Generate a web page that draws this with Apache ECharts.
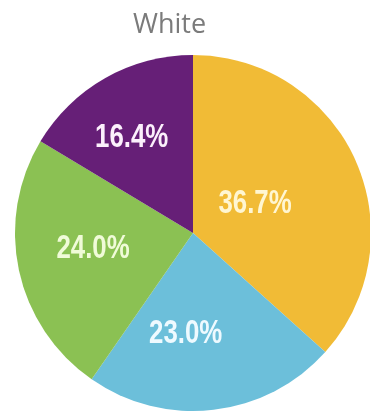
<!DOCTYPE html>
<html>
<head>
<meta charset="utf-8">
<script src="https://cdn.jsdelivr.net/npm/echarts@6/dist/echarts.min.js"></script>
<style>
  html, body { margin: 0; padding: 0; background: #ffffff; }
  #chart { width: 370px; height: 415px; }
</style>
</head>
<body>
<div id="chart"></div>
<script>
// Share of respondents, clockwise from 12 o'clock
const categories = ['A', 'B', 'C', 'D'];
const shares = [36.7, 23.0, 24.0, 16.4];
const chartTitle = 'White';

const sliceColors = ['#f1bb36', '#6cbfda', '#8bc153', '#661f77'];
const labelColors = ['#fff6d2', '#eefaff', '#f0fbd8', '#fcf0fc'];
// small hand nudges for the inside labels, in pixels
const labelNudge = [[-22, 8], [-18, 9], [-10, -4], [-16, -15]];
// horizontal squeeze that gives the percentages a condensed look
const LABEL_SQUEEZE = 0.76;

const chart = echarts.init(document.getElementById('chart'), null, { renderer: 'canvas' });

chart.setOption({
  backgroundColor: '#ffffff',
  animation: false,
  title: {
    text: chartTitle,
    left: 128,
    top: 7,
    textStyle: {
      fontFamily: 'Open Sans',
      fontWeight: 'normal',
      fontSize: 27,
      color: '#7b7b7b'
    }
  },
  series: [{
    type: 'pie',
    center: [193, 233],
    radius: [0, 178],
    startAngle: 90,
    clockwise: true,
    silent: true,
    labelLine: { show: false },
    label: {
      show: true,
      position: 'inside',
      fontFamily: '"Liberation Sans", Arial, sans-serif',
      fontWeight: 'bold',
      fontSize: 34,
      formatter: p => p.value.toFixed(1) + '%'
    },
    labelLayout: p => ({ dx: labelNudge[p.dataIndex][0], dy: labelNudge[p.dataIndex][1] }),
    data: categories.map((c, i) => ({
      name: c,
      value: shares[i],
      itemStyle: { color: sliceColors[i] },
      label: { color: labelColors[i] }
    }))
  }]
});

// narrow the percentage labels around their own anchor points
function squeezeLabels() {
  const zr = chart.getZr();
  zr.storage.getDisplayList(true).forEach(el => {
    const txt = el.style && el.style.text;
    if (typeof txt === 'string' && /%$/.test(txt) && el.scaleX !== LABEL_SQUEEZE) {
      el.attr({ scaleX: LABEL_SQUEEZE });
    }
  });
  zr.refreshImmediately();
}
squeezeLabels();
chart.on('finished', squeezeLabels);
</script>
</body>
</html>
